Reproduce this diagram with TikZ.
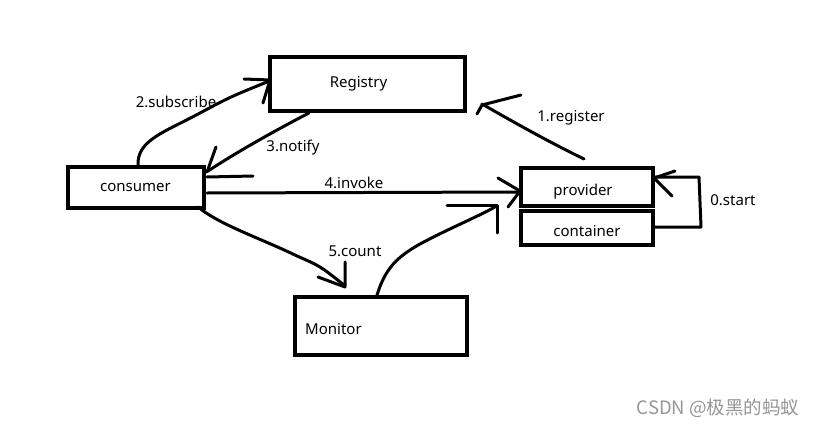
\documentclass[tikz,border=0pt]{standalone}
\usepackage{fontspec}
\setmainfont{Noto Sans}
\newfontfamily\cjk{Noto Sans CJK SC}
\definecolor{wm}{RGB}{150,150,150}
\begin{document}
\begin{tikzpicture}[x=1pt,y=-1pt,
  box/.style={draw=black,line width=4pt,inner sep=0pt,font=\fontsize{15}{17}\selectfont},
  conn/.style={draw=black,line width=3pt,line cap=round,line join=round},
  lbl/.style={font=\fontsize{15}{17}\selectfont,inner sep=0pt}]
\useasboundingbox[fill=white] (0,0) rectangle (821,428);
% boxes
\node[box,minimum width=195pt,minimum height=54pt,label={[lbl,xshift=-9pt]center:Registry}] (reg) at (367.5,84) {};
\node[box,minimum width=136pt,minimum height=41pt,label={[lbl]center:consumer}] (con) at (135.5,187.5) {};
\node[box,minimum width=132pt,minimum height=38pt,label={[lbl,yshift=-5pt,xshift=-4pt]center:provider}] (prov) at (587,187) {};
\node[box,minimum width=132pt,minimum height=34pt,label={[lbl,yshift=-3pt]center:container}] (cont) at (587,228) {};
\node[box,minimum width=172pt,minimum height=58pt,label={[lbl,anchor=west,yshift=-3pt]west:\hspace*{12pt}Monitor}] (mon) at (381,326) {};
% labels
\node[lbl] (l2) at (176,102) {2.subscribe};
\node[lbl] (l3) at (293,148) {3.notify};
\node[lbl] (l4) at (354,183) {4.invoke};
\node[lbl] (l1) at (571,118) {1.register};
\node[lbl] (l0) at (733,200) {0.start};
\node[lbl] (l5) at (355,251) {5.count};
\node[inner sep=0pt,text=wm,font=\cjk\fontsize{18.5}{20}\selectfont] (wmk) at (718,408) {CSDN @极黑的蚂蚁};
% 2.subscribe
\draw[conn] (con.north -| 138,0) .. controls (137,140) and (165,132) .. (200,113) .. controls (230,97) .. (267,82);
\draw[conn] (244,79) -- (270,80) -- (263,103);
% 3.notify
\draw[conn] (reg.south -| 309,0) .. controls (280,128) and (240,150) .. (208,171);
\draw[conn] (216,147) -- (207,172);
\draw[conn] (207,177) -- (253,176);
% 4.invoke
\draw[conn] (207,193) -- (prov.west |- 0,192);
\draw[conn] (498,178) -- (520,191) -- (508,207);
% 5.count
\draw[conn] (198,207) .. controls (220,225) and (260,238) .. (297,256) .. controls (320,266) .. (344,285);
\draw[conn] (345,262) -- (345,287) -- (318,277);
% monitor -> provider
\draw[conn] (mon.north -| 377,0) .. controls (385,270) and (395,258) .. (420,244) .. controls (450,228) and (475,218) .. (495,207);
\draw[conn] (447,205) -- (497,205) -- (497,233);
% 1.register
\draw[conn] (prov.north -| 584,0) ++(0,-7) .. controls (545,140) and (510,120) .. (482,104);
\draw[conn] (521,95) -- (482,105) -- (477,114);
% 0.start
\draw[conn] (cont.east |- 0,227) -- (701,227) -- (699,177) -- (655,177);
\draw[conn] (675,171) -- (654,178) -- (672,196);
\end{tikzpicture}
\end{document}
